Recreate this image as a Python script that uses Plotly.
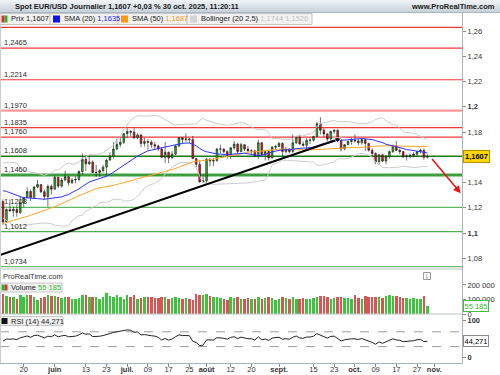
import pandas as pd
import plotly.graph_objects as go

# ---------------- DATA ----------------
# closes before the visible window (3 Mar - 9 May 2025), used for SMA/BB/RSI warm-up
warmup_close = [
    1.0485, 1.0625, 1.0790, 1.0785, 1.0835, 1.0835, 1.0920, 1.0890, 1.0850, 1.0880, 1.0920,
    1.0940, 1.0900, 1.0850, 1.0815, 1.0800, 1.0790, 1.0755, 1.0800, 1.0830, 1.0815,
    1.0790, 1.0850, 1.1050, 1.0960, 1.0910, 1.0960, 1.0950, 1.1200, 1.1360, 1.1350, 1.1285,
    1.1400, 1.1370, 1.1380, 1.1515, 1.1420, 1.1310, 1.1390, 1.1365, 1.1420, 1.1380, 1.1330,
    1.1290, 1.1300, 1.1315, 1.1370, 1.1300, 1.1230, 1.1250,
]

dates = pd.bdate_range("2025-05-12", "2025-10-30")

open_ = [
    # May
    1.1250, 1.1088, 1.1187, 1.1175, 1.1188, 1.1163, 1.1242, 1.1282, 1.1330, 1.1283, 1.1364, 1.1385, 1.1327, 1.1290, 1.1370,
    # June
    1.1347, 1.1442, 1.1372, 1.1420, 1.1446, 1.1398, 1.1420, 1.1425, 1.1487, 1.1584, 1.1548, 1.1562, 1.1480, 1.1480, 1.1495,
    1.1522, 1.1578, 1.1609, 1.1665, 1.1702, 1.1719,
    # July
    1.1787, 1.1805, 1.1799, 1.1755, 1.1777, 1.1710, 1.1725, 1.1720, 1.1700, 1.1690, 1.1665, 1.1600, 1.1640, 1.1595, 1.1625,
    1.1690, 1.1755, 1.1740, 1.1745, 1.1740, 1.1590, 1.1545, 1.1405,
    # August
    1.1415, 1.1585, 1.1570, 1.1575, 1.1665, 1.1665, 1.1645, 1.1615, 1.1675, 1.1705, 1.1645, 1.1700, 1.1665, 1.1650, 1.1650,
    1.1610, 1.1715, 1.1620, 1.1645, 1.1595, 1.1680,
    # September
    1.1685, 1.1710, 1.1645, 1.1665, 1.1645, 1.1715, 1.1760, 1.1705, 1.1695, 1.1735, 1.1735, 1.1765, 1.1865, 1.1815, 1.1785,
    1.1745, 1.1805, 1.1815, 1.1735, 1.1665, 1.1700, 1.1725,
    # October
    1.1735, 1.1730, 1.1715, 1.1740, 1.1710, 1.1655, 1.1630, 1.1565, 1.1620, 1.1570, 1.1605, 1.1645, 1.1690, 1.1655, 1.1645,
    1.1605, 1.1610, 1.1615, 1.1625, 1.1645, 1.1655, 1.1600,
]
high = [
    1.1266, 1.1193, 1.1265, 1.1211, 1.1227, 1.1287, 1.1285, 1.1363, 1.1345, 1.1375, 1.1420, 1.1385, 1.1345, 1.1385, 1.1385,
    1.1455, 1.1445, 1.1435, 1.1495, 1.1455, 1.1435, 1.1450, 1.1497, 1.1631, 1.1612, 1.1615, 1.1575, 1.1540, 1.1505, 1.1540,
    1.1585, 1.1640, 1.1720, 1.1745, 1.1755, 1.1790,
    1.1830, 1.1815, 1.1830, 1.1790, 1.1785, 1.1755, 1.1745, 1.1735, 1.1720, 1.1700, 1.1680, 1.1720, 1.1645, 1.1650, 1.1700,
    1.1760, 1.1760, 1.1790, 1.1755, 1.1770, 1.1595, 1.1575, 1.1460,
    1.1595, 1.1590, 1.1595, 1.1675, 1.1700, 1.1670, 1.1655, 1.1680, 1.1730, 1.1715, 1.1715, 1.1705, 1.1690, 1.1665, 1.1660,
    1.1740, 1.1720, 1.1660, 1.1660, 1.1690, 1.1700,
    1.1720, 1.1720, 1.1680, 1.1675, 1.1780, 1.1765, 1.1780, 1.1725, 1.1750, 1.1755, 1.1770, 1.1880, 1.1918, 1.1830, 1.1790,
    1.1810, 1.1820, 1.1820, 1.1745, 1.1705, 1.1730, 1.1755,
    1.1780, 1.1745, 1.1745, 1.1745, 1.1715, 1.1670, 1.1640, 1.1625, 1.1625, 1.1620, 1.1655, 1.1700, 1.1730, 1.1670, 1.1650,
    1.1625, 1.1630, 1.1640, 1.1650, 1.1670, 1.1670, 1.1625,
]
low = [
    1.1065, 1.1080, 1.1170, 1.1130, 1.1130, 1.1150, 1.1205, 1.1275, 1.1255, 1.1280, 1.1355, 1.1315, 1.1260, 1.1210, 1.1305,
    1.1345, 1.1355, 1.1360, 1.1410, 1.1375, 1.1390, 1.1395, 1.1410, 1.1460, 1.1490, 1.1540, 1.1475, 1.1445, 1.1445, 1.1480,
    1.1455, 1.1575, 1.1590, 1.1660, 1.1680, 1.1705,
    1.1755, 1.1765, 1.1745, 1.1745, 1.1680, 1.1685, 1.1660, 1.1675, 1.1660, 1.1650, 1.1595, 1.1555, 1.1555, 1.1590, 1.1615,
    1.1680, 1.1710, 1.1720, 1.1715, 1.1585, 1.1520, 1.1400, 1.1400,
    1.1390, 1.1530, 1.1530, 1.1565, 1.1630, 1.1630, 1.1590, 1.1585, 1.1660, 1.1630, 1.1640, 1.1650, 1.1645, 1.1625, 1.1605,
    1.1585, 1.1615, 1.1575, 1.1575, 1.1590, 1.1660,
    1.1680, 1.1605, 1.1630, 1.1630, 1.1635, 1.1705, 1.1700, 1.1685, 1.1660, 1.1705, 1.1725, 1.1760, 1.1780, 1.1760, 1.1725,
    1.1730, 1.1785, 1.1725, 1.1645, 1.1655, 1.1695, 1.1700,
    1.1715, 1.1695, 1.1700, 1.1650, 1.1645, 1.1610, 1.1545, 1.1540, 1.1560, 1.1545, 1.1590, 1.1635, 1.1650, 1.1625, 1.1595,
    1.1575, 1.1590, 1.1600, 1.1610, 1.1630, 1.1580, 1.1590,
]
close = [
    1.1088, 1.1187, 1.1175, 1.1188, 1.1163, 1.1242, 1.1282, 1.1330, 1.1283, 1.1364, 1.1385, 1.1327, 1.1290, 1.1370, 1.1347,
    1.1442, 1.1372, 1.1420, 1.1446, 1.1398, 1.1420, 1.1425, 1.1487, 1.1584, 1.1548, 1.1562, 1.1480, 1.1480, 1.1495, 1.1522,
    1.1578, 1.1609, 1.1665, 1.1702, 1.1719, 1.1787,
    1.1805, 1.1799, 1.1755, 1.1777, 1.1710, 1.1725, 1.1720, 1.1700, 1.1690, 1.1665, 1.1600, 1.1640, 1.1595, 1.1625, 1.1690,
    1.1755, 1.1740, 1.1745, 1.1740, 1.1590, 1.1545, 1.1405, 1.1415,
    1.1585, 1.1570, 1.1575, 1.1665, 1.1665, 1.1645, 1.1615, 1.1675, 1.1705, 1.1645, 1.1700, 1.1665, 1.1650, 1.1650, 1.1610,
    1.1715, 1.1620, 1.1645, 1.1595, 1.1680, 1.1685,
    1.1710, 1.1645, 1.1665, 1.1645, 1.1715, 1.1760, 1.1705, 1.1695, 1.1735, 1.1735, 1.1765, 1.1865, 1.1815, 1.1785, 1.1745,
    1.1805, 1.1815, 1.1735, 1.1665, 1.1700, 1.1725, 1.1735,
    1.1730, 1.1715, 1.1740, 1.1710, 1.1655, 1.1630, 1.1565, 1.1620, 1.1570, 1.1605, 1.1645, 1.1690, 1.1655, 1.1645, 1.1605,
    1.1610, 1.1615, 1.1625, 1.1645, 1.1655, 1.1600, 1.1607,
]
volume = [
    138000, 124000, 119000, 115000, 106000, 133000, 119000, 128000, 128000, 119000, 97000, 110000, 115000, 133000, 124000,
    124000, 115000, 110000, 119000, 119000, 106000, 106000, 110000, 128000, 133000, 119000, 119000, 115000, 106000, 119000,
    147000, 124000, 119000, 128000, 119000, 106000,
    133000, 119000, 128000, 101000, 110000, 119000, 115000, 119000, 110000, 110000, 115000, 119000, 106000, 110000, 119000,
    110000, 106000, 110000, 106000, 97000, 138000, 128000, 133000,
    138000, 124000, 119000, 119000, 110000, 101000, 97000, 115000, 110000, 119000, 106000, 106000, 110000, 101000, 106000,
    119000, 106000, 110000, 115000, 110000, 97000,
    101000, 115000, 110000, 106000, 119000, 101000, 106000, 110000, 106000, 101000, 110000, 115000, 124000, 124000, 115000,
    106000, 110000, 115000, 119000, 110000, 110000, 106000,
    128000, 110000, 106000, 124000, 115000, 115000, 119000, 115000, 110000, 124000, 128000, 124000, 124000, 119000, 110000,
    110000, 106000, 110000, 106000, 101000, 124000, 55185,
]

red_levels = [1.2629, 1.2465, 1.2214, 1.1835, 1.1760]
pink_levels = [1.1970]
green_levels = [1.1460, 1.1203, 1.1012, 1.0734]
price_line = 1.1608
level_labels = [1.2465, 1.2214, 1.1970, 1.1835, 1.1760, 1.1608, 1.1460, 1.1203, 1.1012, 1.0734]

trend_dates = ["2025-05-09 03:00", "2025-09-24"]
trend_prices = [1.0826, 1.1741]
arrow_from = ("2025-10-31", 1.1598)
arrow_to = ("2025-11-12 16:00", 1.1315)

x_tick_dates = ["2025-05-20", "2025-06-02", "2025-06-13", "2025-06-23", "2025-07-01", "2025-07-09", "2025-07-17",
                "2025-07-25", "2025-08-01", "2025-08-12", "2025-08-20", "2025-09-01", "2025-09-15", "2025-09-23",
                "2025-10-01", "2025-10-09", "2025-10-17", "2025-10-27", "2025-11-03"]
x_tick_text = ["20", "<b>juin</b>", "13", "23", "<b>juil.</b>", "09", "17", "25", "<b>août</b>", "12", "20",
               "<b>sept.</b>", "15", "23", "<b>oct.</b>", "09", "17", "27", "<b>nov.</b>"]
price_ticks = [1.08, 1.10, 1.12, 1.14, 1.18, 1.20, 1.22, 1.24, 1.26]
price_tick_text = ["1,08", "<b>1,1</b>", "1,12", "1,14", "1,18", "<b>1,2</b>", "1,22", "1,24", "1,26"]

# ---------------- INDICATORS ----------------
all_close = pd.Series(warmup_close + close)
n0 = len(warmup_close)
sma20 = all_close.rolling(20).mean().iloc[n0:].values
sma50 = all_close.rolling(50).mean().iloc[n0:].values
std20 = all_close.rolling(20).std(ddof=0).iloc[n0:].values
bb_up = sma20 + 2.5 * std20
bb_lo = sma20 - 2.5 * std20
delta = all_close.diff()
gain = delta.clip(lower=0).ewm(alpha=1 / 14, adjust=False).mean()
loss = (-delta.clip(upper=0)).ewm(alpha=1 / 14, adjust=False).mean()
rsi = (100 - 100 / (1 + gain / loss)).iloc[n0:].values

# ---------------- LAYOUT HELPERS ----------------
PW, PT, PB = 462.0, 13.0, 363.0
def fx(p):
    return p / PW
def fy(p):
    return (PB - p) / (PB - PT)

FONT = "Liberation Sans, Arial, sans-serif"
GREEN_C, RED_C = "#22b422", "#e3161c"

fig = go.Figure()

fig.add_trace(go.Scatter(x=dates, y=bb_up, mode="lines", line=dict(color="#cccccc", width=1), hoverinfo="skip"))
fig.add_trace(go.Scatter(x=dates, y=bb_lo, mode="lines", line=dict(color="#cccccc", width=1), hoverinfo="skip"))
fig.add_trace(go.Scatter(x=dates, y=sma50, mode="lines", line=dict(color="#ffa52a", width=1), hoverinfo="skip"))
fig.add_trace(go.Scatter(x=dates, y=sma20, mode="lines", line=dict(color="#3030ff", width=1), hoverinfo="skip"))
fig.add_trace(go.Scatter(x=trend_dates, y=trend_prices, mode="lines+markers",
                         line=dict(color="black", width=2),
                         marker=dict(symbol=["circle", "triangle-down"], size=[0, 7], color="black"),
                         hoverinfo="skip"))
fig.add_trace(go.Candlestick(
    x=dates, open=open_, high=high, low=low, close=close, whiskerwidth=0,
    increasing=dict(fillcolor=GREEN_C, line=dict(color="#1a1a1a", width=0.6)),
    decreasing=dict(fillcolor=RED_C, line=dict(color="#1a1a1a", width=0.6)),
    hoverinfo="skip"))

vol_colors = ["#3cc43c" if c >= o else "#d95454" for o, c in zip(open_, close)]
fig.add_trace(go.Bar(x=dates, y=volume, marker=dict(color=vol_colors, line=dict(width=0)),
                     width=0.72 * 86400000, xaxis="x2", yaxis="y2", hoverinfo="skip"))
fig.add_trace(go.Scatter(x=dates, y=rsi, mode="lines", line=dict(color="#222222", width=1),
                         xaxis="x3", yaxis="y3", hoverinfo="skip"))

shapes = []
for lv in red_levels:
    shapes.append(dict(type="line", xref="paper", yref="y", x0=0, x1=1, y0=lv, y1=lv,
                       line=dict(color="#f03a3a", width=1.2), layer="below"))
for lv in pink_levels:
    shapes.append(dict(type="line", xref="paper", yref="y", x0=0, x1=1, y0=lv, y1=lv,
                       line=dict(color="#ff9a9a", width=2.2), layer="below"))
green_styles = {1.1460: ("#3c9e3c", 3.2), 1.1203: ("#5cb85c", 1.2), 1.1012: ("#4caf50", 1.2), 1.0734: ("#6cc06c", 1.2)}
for lv in green_levels:
    c, w = green_styles[lv]
    shapes.append(dict(type="line", xref="paper", yref="y", x0=0, x1=1, y0=lv, y1=lv,
                       line=dict(color=c, width=w), layer="below"))
shapes.append(dict(type="line", xref="paper", yref="y", x0=0, x1=1, y0=price_line, y1=price_line,
                   line=dict(color="#157a15", width=1.6), layer="below"))
# RSI 70/30
for lv in [70, 30]:
    shapes.append(dict(type="line", xref="paper", yref="y3", x0=0, x1=1, y0=lv, y1=lv,
                       line=dict(color="#9a9a9a", width=1, dash="dash"), layer="below"))
# panel separators and left border
for yy in [269, 314]:
    shapes.append(dict(type="line", xref="paper", yref="paper", x0=0, x1=1, y0=fy(yy), y1=fy(yy),
                       line=dict(color="#b8c0c6", width=1)))
shapes.append(dict(type="line", xref="paper", yref="paper", x0=fx(0.5), x1=fx(0.5), y0=0, y1=1,
                   line=dict(color="#c8ced2", width=1)))

# header gradient
hdr_cols = ["#eef2f5", "#e6ecf0", "#dfe6eb", "#d8e0e6", "#d1dae1", "#cad4dc"]
for i, c in enumerate(hdr_cols):
    shapes.append(dict(type="rect", xref="paper", yref="paper", x0=0, x1=fx(500),
                       y0=fy(2 * i + 2), y1=fy(2 * i), fillcolor=c, line=dict(width=0), layer="above"))
shapes.append(dict(type="line", xref="paper", yref="paper", x0=0, x1=fx(500), y0=fy(12.5), y1=fy(12.5),
                   line=dict(color="#aab6bf", width=1), layer="above"))

def box(x0, x1, y0, y1):
    shapes.append(dict(type="rect", xref="paper", yref="paper", x0=fx(x0), x1=fx(x1), y0=fy(y1), y1=fy(y0),
                       fillcolor="#f1f1f1", line=dict(color="#c6c6c6", width=1), layer="above"))

def sq(x0, x1, y0, y1, col):
    shapes.append(dict(type="rect", xref="paper", yref="paper", x0=fx(x0), x1=fx(x1), y0=fy(y1), y1=fy(y0),
                       fillcolor=col, line=dict(width=0), layer="above"))

# legend boxes main
box(0, 50, 13.5, 24.5); box(50, 118, 13.5, 24.5); box(118, 187, 13.5, 24.5); box(187, 312, 13.5, 24.5)
sq(1.5, 4.5, 15.5, 22.5, "#d83030"); sq(4.5, 7.5, 15.5, 22.5, "#28b428")
sq(53, 60, 15.5, 22.5, "#1010f0")
sq(121, 128, 15.5, 22.5, "#ff9a10")
sq(190, 197, 15.5, 22.5, "#d4d4d4")
# volume legend
box(0, 62, 283, 292)
sq(1.5, 4.5, 284.5, 290.5, "#28b428"); sq(4.5, 7.5, 284.5, 290.5, "#d83030")
# rsi legend
box(0, 63, 316.5, 325.5)
sq(1.5, 7.5, 318, 324, "#111111")
# info icon
shapes.append(dict(type="rect", xref="paper", yref="paper", x0=fx(423.5), x1=fx(430.5), y0=fy(279.5), y1=fy(272.5),
                   fillcolor="white", line=dict(color="#9a9a9a", width=1), layer="above"))

ann = []
def txt(x, y, s, size=7.5, color="#222222", anchor="left", yref="paper", yshift=0, **kw):
    ann.append(dict(x=fx(x), y=(fy(y) if yref == "paper" else y), xref="paper", yref=yref, text=s,
                    showarrow=False, xanchor=anchor, yanchor="middle", yshift=yshift,
                    font=dict(family=FONT, size=size, color=color), **kw))

txt(13, 6.5, "<b>Spot EUR/USD Journalier 1,1607 +0,03 % 30 oct. 2025, 11:20:11</b>", size=7.5, color="#1a1a1a")
txt(497, 6.5, "<b>www.ProRealTime.com</b>", size=7.5, color="#1a1a1a", anchor="right")
txt(9, 19, "Prix 1,1607")
txt(61.5, 19, "SMA (20) <span style='color:#2020e8'>1,1635</span>")
txt(129.5, 19, "SMA (50) <span style='color:#f59a1c'>1,1687</span>")
txt(198.5, 19, "Bollinger (20 2,5) <span style='color:#c4c4c4'>1,1744 1,1526</span>")
txt(9, 287.5, "Volume <span style='color:#33bb33'>55 185</span>")
txt(9, 321, "RSI (14) 44,271")
txt(0.5, 276.5, "ProRealTime.com", color="#333333")
txt(427, 276, "i", size=7, color="#777777", anchor="center")

for lv in level_labels:
    ann.append(dict(x=fx(2), y=lv, xref="paper", yref="y", text=("%.4f" % lv).replace(".", ","),
                    showarrow=False, xanchor="left", yanchor="middle", yshift=5.5,
                    font=dict(family=FONT, size=7.5, color="#2a2a2a")))

# right-side value flags
ann.append(dict(x=fx(463), y=close[-1], xref="paper", yref="y", text="<b>1,1607</b>", showarrow=False,
                xanchor="left", yanchor="middle", bgcolor="#ffd600", bordercolor="#b09000", borderwidth=1,
                borderpad=1, font=dict(family=FONT, size=7.5, color="black")))
ann.append(dict(x=fx(463), y=volume[-1], xref="paper", yref="y2", text="55 185", showarrow=False,
                xanchor="left", yanchor="middle", bgcolor="white", bordercolor="#44bb44", borderwidth=1,
                borderpad=0.5, font=dict(family=FONT, size=7.5, color="#33bb33")))
ann.append(dict(x=fx(463), y=rsi[-1], xref="paper", yref="y3", text="44,271", showarrow=False,
                xanchor="left", yanchor="middle", bgcolor="white", bordercolor="#8a8a8a", borderwidth=1,
                borderpad=0.5, font=dict(family=FONT, size=7.5, color="black")))

# red forecast arrow
ann.append(dict(x=arrow_to[0], y=arrow_to[1], xref="x", yref="y", ax=arrow_from[0], ay=arrow_from[1],
                axref="x", ayref="y", text="", showarrow=True, arrowhead=2, arrowsize=1, arrowwidth=1.5,
                arrowcolor="#ee1111"))

x_range = ["2025-05-09 03:00", "2025-11-13 01:00"]
rb = [dict(bounds=["sat", "mon"])]
xcommon = dict(range=x_range, rangebreaks=rb, showgrid=False, zeroline=False, automargin=False,
               rangeslider=dict(visible=False), fixedrange=True)
ycommon = dict(side="right", showgrid=False, zeroline=False, showline=True, linecolor="#a8b2ba",
               ticks="outside", ticklen=3, tickcolor="#8a8a8a", automargin=False,
               tickfont=dict(family=FONT, size=7.5, color="#333333"), fixedrange=True)

fig.update_layout(
    width=500, height=375, margin=dict(l=0, r=38, t=13, b=12, pad=0),
    paper_bgcolor="white", plot_bgcolor="white", showlegend=False,
    xaxis=dict(**xcommon, anchor="y", showticklabels=False, ticks=""),
    xaxis2=dict(**xcommon, anchor="y2", matches="x", showticklabels=False, ticks=""),
    xaxis3=dict(**xcommon, anchor="y3", matches="x", tickvals=x_tick_dates, ticktext=x_tick_text,
                ticks="outside", ticklen=3, tickcolor="#8a8a8a", showline=True, linecolor="#a8b2ba",
                ticklabelstandoff=-4,
                tickfont=dict(family=FONT, size=7.5, color="#333333")),
    yaxis=dict(**ycommon, domain=[fy(269), 1], range=[1.07156, 1.27425],
               tickvals=price_ticks, ticktext=price_tick_text),
    yaxis2=dict(**ycommon, domain=[fy(314), fy(269)], range=[0, 310000],
                tickvals=[0, 100000, 200000], ticktext=["0", "100 000", "200 000"]),
    yaxis3=dict(**ycommon, domain=[0, fy(314)], range=[-14.3, 118.1],
                tickvals=[0, 100], ticktext=["<b>0</b>", "<b>100</b>"]),
    shapes=shapes, annotations=ann, bargap=0,
)

fig.write_html("out.html", config={"displayModeBar": False},
               post_script="document.body.style.margin='0';document.body.style.padding='0';")
